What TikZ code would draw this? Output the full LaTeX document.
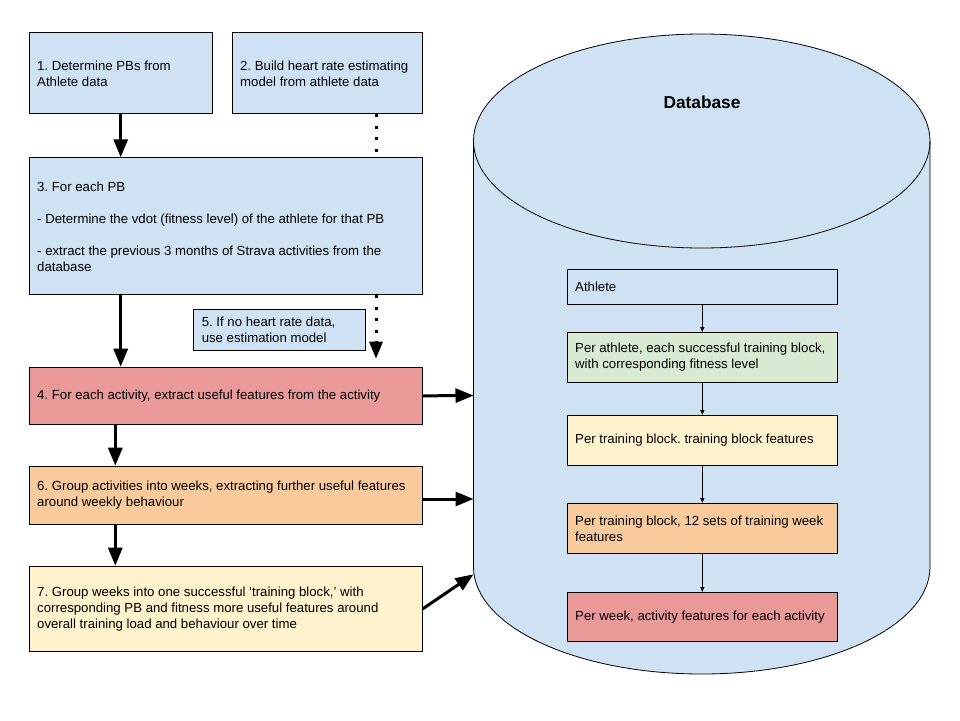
\documentclass[tikz,border=0pt]{standalone}
\usepackage{fontspec}
\setmainfont{Liberation Sans}
\usetikzlibrary{positioning}
\usetikzlibrary{arrows.meta}

\definecolor{gblue}{HTML}{CFE2F3}
\definecolor{gred}{HTML}{EA9999}
\definecolor{gorange}{HTML}{F9CB9C}
\definecolor{gyellow}{HTML}{FFF2CC}
\definecolor{ggreen}{HTML}{D9EAD3}
\newcommand{\boxfont}{\fontsize{13.2}{16}\selectfont\frenchspacing\hyphenpenalty=10000 }

\tikzset{
  procbox/.style={draw=black, line width=1pt, anchor=north west, align=flush left,
    inner xsep=8pt, inner ysep=0pt, font=\boxfont},
  tablebox/.style={procbox, text width=254.3pt},
  flow/.style={line width=3pt, -{Triangle[length=18pt,width=14pt]}},
  dotflow/.style={line width=3pt, dash pattern=on 3pt off 8.5pt},
  link/.style={line width=0.8pt, -{Triangle[length=5pt,width=4pt]}}
}

\begin{document}
\begin{tikzpicture}[x=1pt,y=-1pt]
\useasboundingbox (0,0) rectangle (960,720);

%database cylinder
\filldraw[fill=gblue, draw=black, line width=0.8pt] (473.5,141) -- (473.5,567)
  arc[start angle=180, end angle=360, x radius=228.25pt, y radius=107pt] -- (930,141)
  arc[start angle=0, end angle=180, x radius=228.25pt, y radius=107pt] -- cycle;
\draw[line width=0.8pt] (473.5,141) arc[start angle=180, end angle=360, x radius=228.25pt, y radius=107pt];
\node[font=\bfseries\fontsize{17.3}{20}\selectfont] (db) at (702,102) {Database};

%tables in the database
\node[tablebox, fill=gblue, minimum height=34.7pt] (ath) at (566.7,269.3) {Athlete};
\node[tablebox, fill=ggreen, minimum height=50pt] (blk) at (566.7,332) {Per athlete, each successful training block,\\with corresponding fitness level};
\node[tablebox, fill=gyellow, minimum height=50pt] (blkf) at (566.7,415) {Per training block. training block features};
\node[tablebox, fill=gorange, minimum height=50pt] (wkf) at (566.7,503) {Per training block, 12 sets of training week\\features};
\node[tablebox, fill=gred, minimum height=49pt] (actf) at (566.7,592) {Per week, activity features for each activity};

\draw[link] (ath) -- (blk);
\draw[link] (blk) -- (blkf);
\draw[link] (blkf) -- (wkf);
\draw[link] (wkf) -- (actf);

%process steps
\node[procbox, fill=gblue, text width=167pt, minimum height=81pt] (b1) at (28.7,32.3) {1. Determine PBs from\\Athlete data};
\node[procbox, fill=gblue, text width=174pt, minimum height=81pt] (b2) at (231.7,32.3) {2. Build heart rate estimating\\model from athlete data};
\node[procbox, fill=gblue, text width=377pt, minimum height=137pt] (b3) at (28.7,157.3) {3. For each PB\\[16pt]- Determine the vdot (fitness level) of the athlete for that PB\\[16pt]- extract the previous 3 months of Strava activities from the\\database};
\node[procbox, fill=gblue, text width=156pt, minimum height=40.7pt] (b5) at (193.3,309.3) {5. If no heart rate data,\\use estimation model};
\node[procbox, fill=gred, text width=377pt, minimum height=57.3pt] (b4) at (28.7,366.7) {4. For each activity, extract useful features from the activity};
\node[procbox, fill=gorange, text width=377pt, minimum height=58.3pt] (b6) at (28.7,465.7) {6. Group activities into weeks, extracting further useful features\\around weekly behaviour};
\node[procbox, fill=gyellow, text width=377pt, minimum height=85.3pt] (b7) at (28.7,565.7) {7. Group weeks into one successful `training block,' with\\corresponding PB and fitness more useful features around\\overall training load and behaviour over time};

%arrows
\draw[flow] (b1.south) -- (b1.south |- b3.north);
\draw[flow] (b1.south |- b3.south) -- (b1.south |- b4.north);
\draw[flow] ([xshift=86.6pt]b4.south west) -- ([xshift=86.6pt]b6.north west);
\draw[flow] ([xshift=86.6pt]b6.south west) -- ([xshift=86.6pt]b7.north west);
\draw[dotflow] ([xshift=-46.7pt]b2.south east) -- ([xshift=-46.7pt]b3.north east);
\draw[dotflow, -{Triangle[length=17pt,width=13pt]}, shorten >=8pt] ([xshift=-46.7pt]b3.south east) -- ([xshift=-46.7pt]b4.north east);

\coordinate (in4) at (473.5,395.5);
\coordinate (in6) at (473.5,499);
\coordinate (in7) at (473.5,574.3);
\draw[flow] (b4.east) -- (in4);
\draw[flow] (b6.east |- in6) -- (in6);
\draw[flow] (b7.east) -- (in7);

\end{tikzpicture}
\end{document}
